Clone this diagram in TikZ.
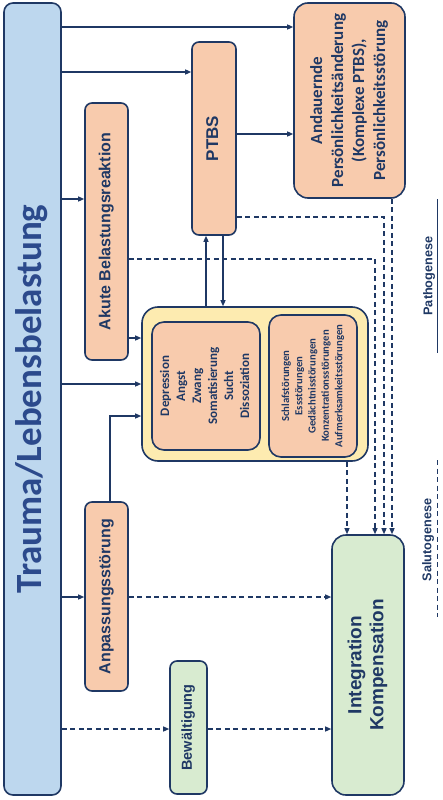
\documentclass[tikz,border=0pt]{standalone}
\usepackage{fontspec}
\usepackage{graphicx}
\newfontfamily\calibri{Carlito}
\newfontfamily\arial{Liberation Sans}
\usetikzlibrary{arrows.meta}
\definecolor{navy}{RGB}{31,56,100}
\definecolor{traumablue}{RGB}{189,215,238}
\definecolor{traumatext}{RGB}{44,74,140}
\definecolor{salmon}{RGB}{248,203,173}
\definecolor{paleyellow}{RGB}{253,235,176}
\definecolor{palegreen}{RGB}{216,235,208}
\newcommand{\turned}[1]{\rotatebox{90}{\begin{tabular}{@{}c@{}}#1\end{tabular}}}
\tikzset{
    box/.style={draw=navy, line width=1.6pt, rounded corners=7pt,
        inner sep=0pt, text=navy},
    salmonbox/.style={box, fill=salmon},
    greenbox/.style={box, fill=palegreen},
    arr/.style={draw=navy, line width=1.2pt,
        -{Triangle[length=6pt, width=5pt]}},
    dashline/.style={dash pattern=on 5pt off 3.5pt},
    tag/.style={text=navy, inner sep=0pt,
        font=\arial\bfseries\fontsize{12.7}{15}\selectfont},
}

\begin{document}
\begin{tikzpicture}[x=1pt, y=-1pt]
    \useasboundingbox (0,0) rectangle (442,800);
    % boxes
    \node[box, fill=traumablue, text=traumatext, rounded corners=9pt,
        minimum width=57pt, minimum height=792pt,
        font=\calibri\bfseries\fontsize{37}{44}\selectfont]
        (trauma) at (32.5,399) {\turned{Trauma/Lebensbelastung}};
    \node[salmonbox, minimum width=43pt, minimum height=257pt,
        font=\arial\bfseries\fontsize{16}{19}\selectfont]
        (akute) at (106.5,231.5) {\turned{Akute Belastungsreaktion}};
    \node[salmonbox, minimum width=44pt, minimum height=193pt,
        font=\arial\bfseries\fontsize{17}{20}\selectfont]
        (ptbs) at (214,138.5) {\turned{PTBS}};
    \node[salmonbox, rounded corners=14pt, minimum width=111pt,
        minimum height=195pt, font=\calibri\bfseries\fontsize{17}{21}\selectfont]
        (andauernd) at (349.5,100.5)
        {\turned{Andauernde\\Persönlichkeitsänderung\\(Komplexe PTBS),\\Persönlichkeitsstörung}};
    \node[box, fill=paleyellow, rounded corners=16pt, minimum width=226pt,
        minimum height=154pt] (gelb) at (255,384) {};
    \node[salmonbox, rounded corners=12pt, minimum width=108pt,
        minimum height=128pt, font=\calibri\bfseries\fontsize{13}{16}\selectfont]
        (stoerung) at (206,386)
        {\turned{Depression\\Angst\\Zwang\\Somatisierung\\Sucht\\Dissoziation}};
    \node[salmonbox, rounded corners=12pt, minimum width=88pt,
        minimum height=142pt, font=\calibri\bfseries\fontsize{10.7}{13.3}\selectfont]
        (funktion) at (313,386)
        {\turned{Schlafstörungen\\Essstörungen\\Gedächtnisstörungen\\Konzentrationsstörungen\\Aufmerksamkeitsstörungen}};
    \node[salmonbox, minimum width=43pt, minimum height=189pt,
        font=\arial\bfseries\fontsize{16}{19}\selectfont]
        (anpassung) at (106.5,596.5) {\turned{Anpassungsstörung}};
    \node[greenbox, minimum width=37pt, minimum height=133pt,
        font=\arial\bfseries\fontsize{14.5}{17}\selectfont]
        (bewaelt) at (188.5,727.5) {\turned{Bewältigung}};
    \node[greenbox, rounded corners=14pt, minimum width=72pt,
        minimum height=260pt, font=\arial\bfseries\fontsize{19}{22}\selectfont]
        (integration) at (368,665) {\turned{Integration\\Kompensation}};

    % rows and columns of the connectors
    \coordinate (r1) at (0,27);   \coordinate (r2) at (0,72);
    \coordinate (r3) at (0,199);  \coordinate (r4) at (0,384);
    \coordinate (r5) at (0,597);  \coordinate (r6) at (0,729);
    \coordinate (r7) at (0,338);  \coordinate (r8) at (0,416);
    \coordinate (r9) at (0,134);  \coordinate (d1) at (0,259);
    \coordinate (d2) at (0,217);
    \coordinate (c1) at (110,0);  \coordinate (c2) at (206,0);
    \coordinate (c3) at (223,0);  \coordinate (c4) at (375,0);
    \coordinate (c5) at (384,0);  \coordinate (c6) at (392,0);
    \coordinate (c7) at (347,0);

    % solid arrows
    \draw[arr] (trauma.east |- r1) -- (andauernd.west |- r1);
    \draw[arr] (trauma.east |- r2) -- (ptbs.west |- r2);
    \draw[arr] (trauma.east |- r3) -- (akute.west |- r3);
    \draw[arr] (trauma.east |- r4) -- (gelb.west |- r4);
    \draw[arr] (trauma.east |- r5) -- (anpassung.west |- r5);
    \draw[arr] (akute.east |- r7) -- (gelb.west |- r7);
    \draw[arr] (anpassung.north -| c1) |- (gelb.west |- r8);
    \draw[arr] (ptbs.east |- r9) -- (andauernd.west |- r9);
    \draw[arr] (gelb.north -| c2) -- (ptbs.south -| c2);
    \draw[arr] (ptbs.south -| c3) -- (gelb.north -| c3);

    % dashed arrows
    \draw[arr, dashline] (trauma.east |- r6) -- (bewaelt.west |- r6);
    \draw[arr, dashline] (bewaelt.east |- r6) -- (integration.west |- r6);
    \draw[arr, dashline] (anpassung.east |- r5) -- (integration.west |- r5);
    \draw[arr, dashline] (akute.east |- d1) -| (integration.north -| c4);
    \draw[arr, dashline] (ptbs.east |- d2) -| (integration.north -| c5);
    \draw[arr, dashline] (andauernd.south -| c6) -- (integration.north -| c6);
    \draw[arr, dashline] (gelb.south -| c7) -- (integration.north -| c7);

    % side labels
    \node[tag] (patho) at (429,276) {\rotatebox{90}{Pathogenese}};
    \draw[navy, line width=1pt] (437,199) -- (437,353);
    \node[tag] (saluto) at (428,540) {\rotatebox{90}{Salutogenese}};
    \draw[navy, line width=1pt, dashline] (437,460) -- (437,617);
\end{tikzpicture}
\end{document}
